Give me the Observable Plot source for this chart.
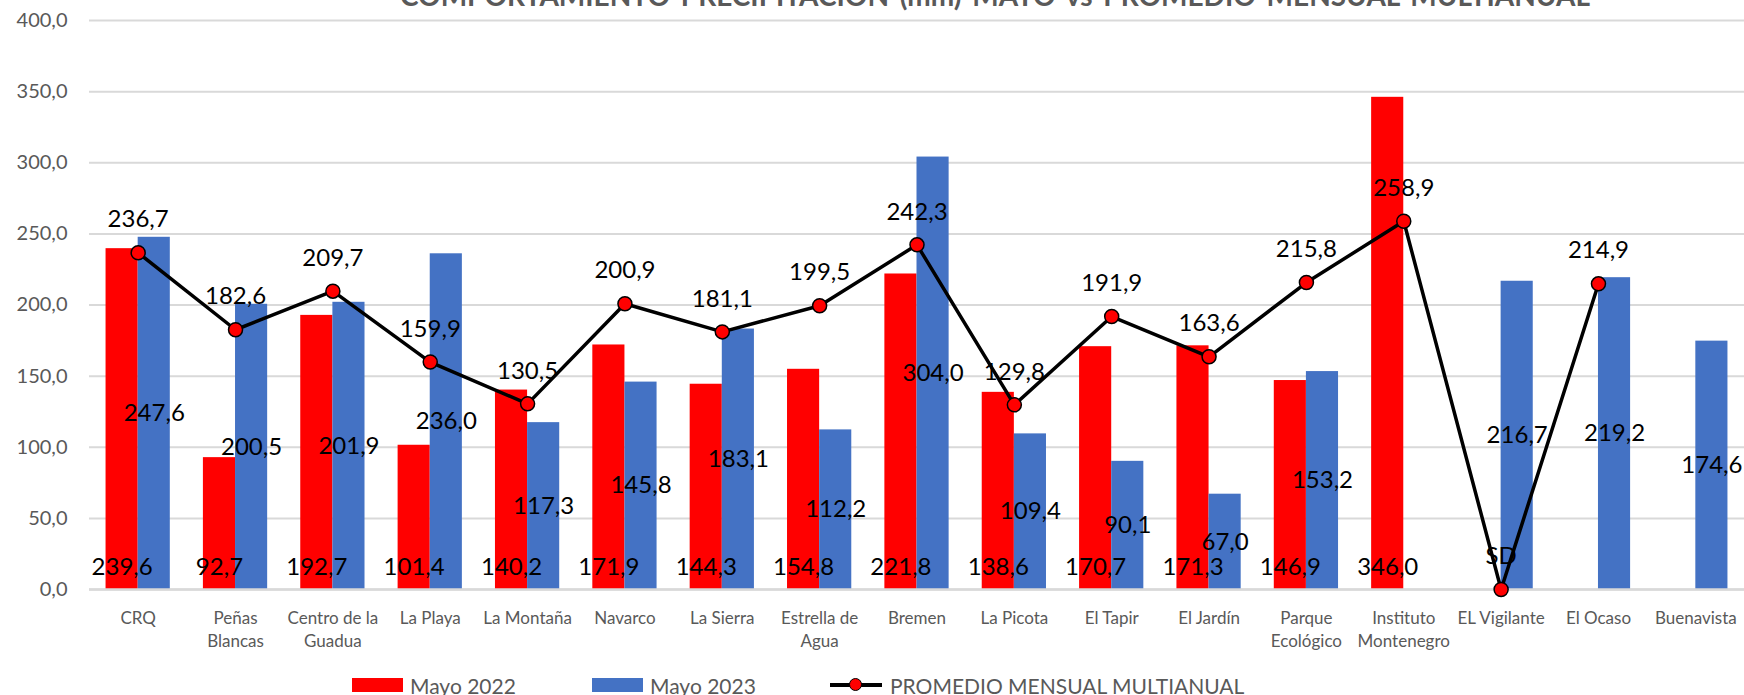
<!DOCTYPE html>
<html>
<head>
<meta charset="utf-8">
<script src="https://cdn.jsdelivr.net/npm/d3@7"></script>
<script src="https://cdn.jsdelivr.net/npm/@observablehq/plot@0.6"></script>
<style>
  html, body { margin: 0; padding: 0; background: #fff; overflow: hidden; }
  #wrap { position: relative; width: 1744px; height: 695px; font-family: Lato, "Open Sans", sans-serif; }
  #title { position: absolute; top: -19px; left: 995px; transform: translateX(-50%); white-space: nowrap;
           font-size: 28px; line-height: 28px; font-weight: bold; color: #595959; z-index: 2; word-spacing: 4px; }
  #chart { position: absolute; top: 0; left: 0; }
  .leg { position: absolute; top: 672px; height: 26px; display: flex; align-items: center; color: #595959; font-size: 21px; white-space: nowrap; }
  .sw { width: 51px; height: 14px; margin-right: 7px; }
  .lineSw { position: relative; width: 52px; height: 14px; margin-right: 8px; }
  .lineSw .l { position: absolute; left: 0; right: 0; top: 5px; height: 4px; background: #000; }
  .lineSw .d { position: absolute; left: 19px; top: 0; width: 11px; height: 11px; border-radius: 50%; background: #ff0000; border: 1.5px solid #000; }
</style>
</head>
<body>
<div id="wrap">
  <div id="title">COMPORTAMIENTO PRECIPITACIÓN (mm) MAYO vs PROMEDIO MENSUAL MULTIANUAL</div>
  <div id="chart"></div>
  <div class="leg" style="left:352px"><div class="sw" style="background:#ff0000"></div>Mayo 2022</div>
  <div class="leg" style="left:592px"><div class="sw" style="background:#4472c4"></div>Mayo 2023</div>
  <div class="leg" style="left:830px"><div class="lineSw"><div class="l"></div><div class="d"></div></div>PROMEDIO MENSUAL MULTIANUAL</div>
</div>
<script>
const categories = ["CRQ", "Peñas\nBlancas", "Centro de la\nGuadua", "La Playa", "La Montaña", "Navarco", "La Sierra",
  "Estrella de\nAgua", "Bremen", "La Picota", "El Tapir", "El Jardín", "Parque\nEcológico", "Instituto\nMontenegro",
  "EL Vigilante", "El Ocaso", "Buenavista"];
const mayo2022 = [239.6, 92.7, 192.7, 101.4, 140.2, 171.9, 144.3, 154.8, 221.8, 138.6, 170.7, 171.3, 146.9, 346.0, null, null, null];
const mayo2023 = [247.6, 200.5, 201.9, 236.0, 117.3, 145.8, 183.1, 112.2, 304.0, 109.4, 90.1, 67.0, 153.2, null, 216.7, 219.2, 174.6];
const promedio = [236.7, 182.6, 209.7, 159.9, 130.5, 200.9, 181.1, 199.5, 242.3, 129.8, 191.9, 163.6, 215.8, 258.9, 0, 214.9, null];
const promedioNota = ["", "", "", "", "", "", "", "", "", "", "", "", "", "", "SD", "", ""];
const yTicks = [0, 50, 100, 150, 200, 250, 300, 350, 400];

const fmt = v => v.toFixed(1).replace(".", ",");
const rows = categories.map((c, i) => ({i, c, v22: mayo2022[i], v23: mayo2023[i], p: promedio[i], nota: promedioNota[i]}));
const r22 = rows.filter(d => d.v22 != null);
const r23 = rows.filter(d => d.v23 != null);
const rp = rows.filter(d => d.p != null);
const W = 0.33;

const chart = Plot.plot({
  width: 1744,
  height: 670,
  marginTop: 20,
  marginBottom: 81,
  marginLeft: 89,
  marginRight: 0,
  style: {fontFamily: "Lato, 'Open Sans', sans-serif", color: "#595959", background: "transparent"},
  x: {type: "linear", domain: [-0.5, categories.length - 0.5], axis: null},
  y: {domain: [0, 400], axis: null},
  marks: [
    Plot.gridY(yTicks, {stroke: "#d9d9d9", strokeOpacity: 1, strokeWidth: 2}),
    Plot.axisY(yTicks, {tickSize: 0, tickPadding: 22, fontSize: 20, fill: "#595959", tickFormat: fmt, label: null}),
    Plot.axisX(d3.range(categories.length), {tickSize: 0, tickPadding: 18, fontSize: 17, fill: "#595959",
      lineHeight: 1.35, tickFormat: i => categories[i], label: null}),
    Plot.rectY(r22, {x1: d => d.i - W, x2: d => d.i, y: "v22", fill: "#ff0000"}),
    Plot.rectY(r23, {x1: d => d.i, x2: d => d.i + W, y: "v23", fill: "#4472c4"}),
    Plot.ruleY([0], {stroke: "#d9d9d9", strokeWidth: 2.5}),
    Plot.text(r22, {x: d => d.i - W / 2, y: 0, text: d => fmt(d.v22), dy: -22, fill: "#000", fontSize: 24}),
    Plot.text(r23, {x: d => d.i + W / 2, y: d => d.v23 / 2, text: d => fmt(d.v23), fill: "#000", fontSize: 24}),
    Plot.line(rows, {x: "i", y: "p", stroke: "#000", strokeWidth: 3.5}),
    Plot.dot(rp, {x: "i", y: "p", r: 7, fill: "#ff0000", stroke: "#000", strokeWidth: 1.5}),
    Plot.text(rp, {x: "i", y: "p", text: d => d.nota || fmt(d.p), dy: -33, fill: "#000", fontSize: 24})
  ]
});
document.getElementById("chart").appendChild(chart);
</script>
</body>
</html>
